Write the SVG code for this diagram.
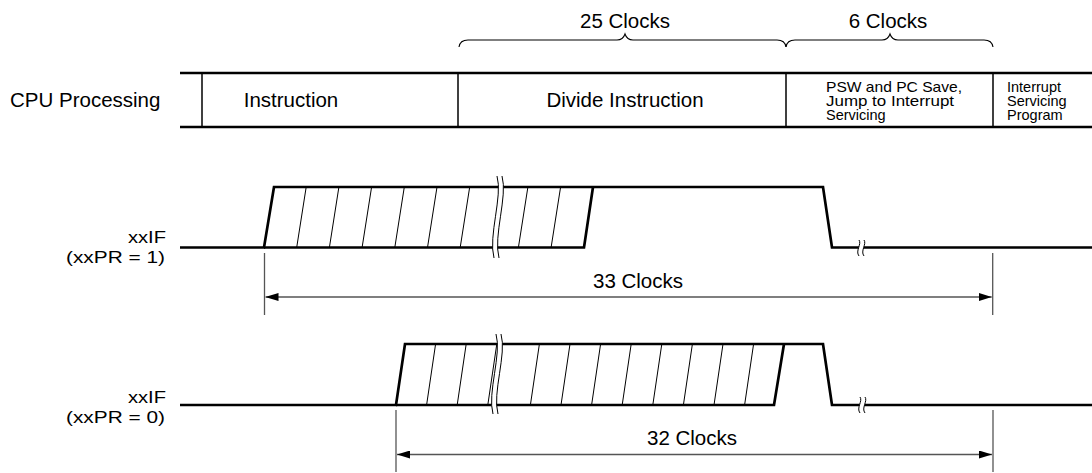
<svg xmlns="http://www.w3.org/2000/svg" width="1092" height="473" viewBox="0 0 1092 473">
<style>
text{font-family:"Liberation Sans",Arial,sans-serif;fill:#000}
.t{font-size:20.5px}
.s{font-size:14.5px}
.thick{stroke:#000;stroke-width:2.7;fill:none;stroke-linejoin:miter}
.div{stroke:#000;stroke-width:1.5;fill:none}
.hatch{stroke:#000;stroke-width:1;fill:none}
.dim{stroke:#555;stroke-width:1.3;fill:none}
.brace{stroke:#000;stroke-width:1.1;fill:none}
.brk{stroke:#000;stroke-width:1;fill:none}
</style>
<defs>
<marker id="ah" viewBox="0 0 13 8" refX="13" refY="4" markerWidth="13" markerHeight="8" markerUnits="userSpaceOnUse" orient="auto-start-reverse">
<path d="M0,0 L13,4 L0,8 Z" fill="#000"/>
</marker>
</defs>
<rect width="1092" height="473" fill="#fff"/>

<g id="braces">
<path class="brace" d="M459,47 Q460,40 468,40 L617,40 Q623,40 625,34 Q627,40 633,40 L777,40 Q785,40 786,47"/>
<path class="brace" d="M786,47 Q787,40 795,40 L882,40 Q888,40 890,34 Q892,40 898,40 L984,40 Q992,40 993,47"/>
<text class="t" x="625" y="28" text-anchor="middle">25 Clocks</text>
<text class="t" x="888" y="28" text-anchor="middle">6 Clocks</text>
</g>

<g id="cpu">
<text class="t" x="10" y="107">CPU Processing</text>
<line class="thick" x1="180" y1="73" x2="1092" y2="73"/>
<line class="thick" x1="180" y1="127" x2="1092" y2="127"/>
<line class="div" x1="202" y1="73" x2="202" y2="127"/>
<line class="div" x1="458" y1="73" x2="458" y2="127"/>
<line class="div" x1="786" y1="73" x2="786" y2="127"/>
<line class="div" x1="993" y1="73" x2="993" y2="127"/>
<text class="t" x="291" y="107" text-anchor="middle">Instruction</text>
<text class="t" x="625" y="107" text-anchor="middle">Divide Instruction</text>
<text class="s" x="826" y="92" textLength="136" lengthAdjust="spacingAndGlyphs">PSW and PC Save,</text>
<text class="s" x="826" y="106" textLength="128" lengthAdjust="spacingAndGlyphs">Jump to Interrupt</text>
<text class="s" x="826" y="120">Servicing</text>
<text class="s" x="1007" y="92">Interrupt</text>
<text class="s" x="1007" y="106">Servicing</text>
<text class="s" x="1007" y="120">Program</text>
</g>

<g id="wave1">
<text x="166" y="243" font-size="17" text-anchor="end" textLength="38" lengthAdjust="spacingAndGlyphs">xxIF</text>
<text x="165" y="262.5" font-size="17" text-anchor="end" textLength="99" lengthAdjust="spacingAndGlyphs">(xxPR = 1)</text>
<path class="thick" d="M180,247.5 L264,247.5 L274,187 L823,187 L832,247.5 L1092,247.5"/>
<path class="thick" d="M264,247.5 L584,247.5 L593,187"/>
<g class="hatch">
<line x1="296.7" y1="247.5" x2="306.2" y2="187"/>
<line x1="329.4" y1="247.5" x2="338.9" y2="187"/>
<line x1="362.1" y1="247.5" x2="371.6" y2="187"/>
<line x1="394.8" y1="247.5" x2="404.3" y2="187"/>
<line x1="427.5" y1="247.5" x2="437" y2="187"/>
<line x1="460.2" y1="247.5" x2="469.7" y2="187"/>
<line x1="518.4" y1="247.5" x2="527.9" y2="187"/>
<line x1="551.1" y1="247.5" x2="560.6" y2="187"/>
</g>
<path fill="#fff" d="M497,176 C503,196 488,236 494,258 L499,258 C493,236 508,196 502,176 Z"/>
<path class="brk" d="M497,176 C503,196 488,236 494,258 M502,176 C508,196 493,236 499,258"/>
<path fill="#fff" d="M859,240 C862,244 855,251 859,256 L864,256 C860,251 867,244 864,240 Z"/>
<path class="brk" d="M859,240 C862,244 855,251 859,256 M864,240 C867,244 860,251 864,256"/>
</g>

<g id="wave2">
<text x="166" y="403" font-size="17" text-anchor="end" textLength="38" lengthAdjust="spacingAndGlyphs">xxIF</text>
<text x="165" y="422.5" font-size="17" text-anchor="end" textLength="99" lengthAdjust="spacingAndGlyphs">(xxPR = 0)</text>
<path class="thick" d="M180,405 L396,405 L405,344 L823,344 L832,405 L1092,405"/>
<path class="thick" d="M396,405 L774,405 L784,344"/>
<g class="hatch">
<line x1="426.6" y1="405" x2="435.6" y2="344"/>
<line x1="457.2" y1="405" x2="466.2" y2="344"/>
<line x1="487.8" y1="405" x2="496.8" y2="344"/>
<line x1="530.4" y1="405" x2="539.4" y2="344"/>
<line x1="561" y1="405" x2="570" y2="344"/>
<line x1="591.6" y1="405" x2="600.6" y2="344"/>
<line x1="622.2" y1="405" x2="631.2" y2="344"/>
<line x1="652.8" y1="405" x2="661.8" y2="344"/>
<line x1="683.4" y1="405" x2="692.4" y2="344"/>
<line x1="714" y1="405" x2="723" y2="344"/>
<line x1="744.6" y1="405" x2="753.6" y2="344"/>
</g>
<path fill="#fff" d="M496,334 C502,354 487,393 493,414 L498,414 C492,393 507,354 501,334 Z"/>
<path class="brk" d="M496,334 C502,354 487,393 493,414 M501,334 C507,354 492,393 498,414"/>
<path fill="#fff" d="M860,397 C863,401 856,408 860,413 L865,413 C861,408 868,401 865,397 Z"/>
<path class="brk" d="M860,397 C863,401 856,408 860,413 M865,397 C868,401 861,408 865,413"/>
</g>

<g id="connectors">
<line class="dim" x1="264.5" y1="253" x2="264.5" y2="315"/>
<line class="dim" x1="992.7" y1="253" x2="992.7" y2="315"/>
<line class="dim" x1="265.5" y1="297" x2="991.7" y2="297" marker-start="url(#ah)" marker-end="url(#ah)"/>
<text class="t" x="638" y="287.5" text-anchor="middle">33 Clocks</text>
<line class="dim" x1="396" y1="410" x2="396" y2="472"/>
<line class="dim" x1="993" y1="410" x2="993" y2="472"/>
<line class="dim" x1="397" y1="454.5" x2="992" y2="454.5" marker-start="url(#ah)" marker-end="url(#ah)" stroke="#000" stroke-width="1.1"/>
<text class="t" x="692" y="445" text-anchor="middle">32 Clocks</text>
</g>
</svg>
